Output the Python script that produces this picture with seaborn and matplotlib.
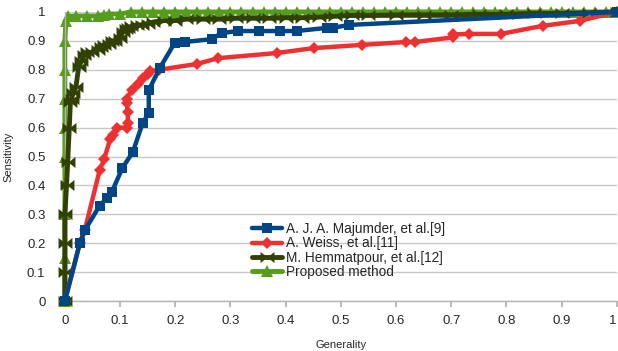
import numpy as np
import pandas as pd
import matplotlib
matplotlib.use("Agg")
import matplotlib.pyplot as plt
import seaborn as sns
from matplotlib.path import Path

# ---- data ----
maj_x = [0, 0.027, 0.036, 0.063, 0.076, 0.085, 0.104, 0.123, 0.141, 0.152, 0.152,
         0.172, 0.199, 0.217, 0.266, 0.284, 0.313, 0.351, 0.389, 0.42, 0.475, 0.486,
         0.514, 1.0]
maj_y = [0, 0.20, 0.245, 0.33, 0.356, 0.377, 0.46, 0.515, 0.616, 0.65, 0.73,
         0.806, 0.893, 0.896, 0.906, 0.927, 0.934, 0.934, 0.934, 0.934, 0.945, 0.945,
         0.955, 1.0]

weiss_x = [0, 0.027, 0.036, 0.063, 0.071, 0.082, 0.087, 0.094, 0.112, 0.114, 0.114,
           0.112, 0.112, 0.121, 0.132, 0.141, 0.15, 0.154, 0.17, 0.239, 0.277, 0.384,
           0.451, 0.538, 0.618, 0.634, 0.703, 0.703, 0.732, 0.79, 0.866, 0.933, 1.0]
weiss_y = [0, 0.20, 0.245, 0.453, 0.49, 0.56, 0.574, 0.6, 0.6, 0.616, 0.654,
           0.685, 0.70, 0.73, 0.75, 0.77, 0.785, 0.795, 0.80, 0.82, 0.84, 0.858,
           0.875, 0.886, 0.896, 0.896, 0.912, 0.922, 0.924, 0.924, 0.952, 0.969, 1.0]

hem_x = [0, 0, 0, 0, 0.003, 0.005, 0.008, 0.01, 0.012, 0.015, 0.02, 0.025, 0.03,
         0.035, 0.04, 0.05, 0.06, 0.065, 0.07, 0.08, 0.085, 0.09, 0.1, 0.105, 0.11,
         0.115, 0.12, 0.13, 0.14, 0.15, 0.16, 0.18, 0.2, 0.22, 0.25, 0.28, 0.31,
         0.34, 0.37, 0.4, 0.43, 0.46, 0.49, 0.52, 0.55, 0.6, 0.65, 0.7, 0.75, 0.8,
         0.85, 0.9, 0.95, 1.0]
hem_y = [0, 0.1, 0.2, 0.3, 0.4, 0.48, 0.6, 0.69, 0.7, 0.72, 0.74, 0.81, 0.83,
         0.85, 0.86, 0.86, 0.87, 0.88, 0.885, 0.89, 0.9, 0.9, 0.91, 0.93, 0.94,
         0.945, 0.95, 0.955, 0.955, 0.96, 0.965, 0.97, 0.97, 0.975, 0.975, 0.975,
         0.978, 0.978, 0.978, 0.98, 0.98, 0.982, 0.985, 0.988, 0.988, 0.99, 0.99,
         0.99, 0.992, 0.992, 0.995, 0.995, 0.997, 1.0]

prop_x = [0, 0, 0, 0, 0, 0, 0, 0, 0.002, 0.005, 0.02, 0.04, 0.06, 0.07, 0.08, 0.1,
          0.12, 0.14, 0.16, 0.18, 0.2, 0.22, 0.24, 0.26, 0.28, 0.3, 0.32, 0.34,
          0.36, 0.38, 0.4, 0.42, 0.44, 0.46, 0.48, 0.5, 0.52, 0.54, 0.56, 0.58,
          0.6, 0.62, 0.64, 0.66, 0.68, 0.7, 0.72, 0.74, 0.76, 0.78, 0.8, 0.82,
          0.84, 0.86, 0.88, 0.9, 0.92, 0.94, 0.96, 0.98, 1.0]
prop_y = [0, 0.15, 0.3, 0.5, 0.6, 0.7, 0.8, 0.9, 0.97, 0.985, 0.986, 0.986, 0.986,
          0.99, 0.993, 0.993, 1, 1, 1, 1, 1, 1, 1, 1, 1, 1, 1, 1, 1, 1, 1, 1, 1,
          1, 1, 1, 1, 1, 1, 1, 1, 1, 1, 1, 1, 1, 1, 1, 1, 1, 1, 1, 1, 1, 1, 1, 1,
          1, 1, 1, 1]

labels = ["A. J. A. Majumder, et al.[9]", "A. Weiss, et al.[11]",
          "M. Hemmatpour, et al.[12]", "Proposed method"]
colors = ["#004586", "#ee3030", "#314004", "#579d1c"]
tick_labels = ["0", "0.1", "0.2", "0.3", "0.4", "0.5", "0.6", "0.7", "0.8", "0.9", "1"]

# bowtie marker for the Hemmatpour series
bowtie = Path([(-1, -0.8), (0, 0), (-1, 0.8), (-1, -0.8), (1, 0.8), (0, 0),
               (1, -0.8), (1, 0.8)])

sns.set_theme(style="white")
plt.rcParams['font.family'] = ['Liberation Sans', 'DejaVu Sans']

fig = plt.figure(figsize=(6.18, 3.51), dpi=100)
ax = fig.add_axes([0.105, 0.142, 0.893, 0.824])

# first series ends up on top, as in the reference
series = [(maj_x, maj_y, "s", 7, 3.2, 5), (weiss_x, weiss_y, "D", 6, 3.2, 4),
          (hem_x, hem_y, bowtie, 10, 3.5, 3), (prop_x, prop_y, "^", 8, 3.5, 2)]
for (xs, ys, mk, ms, lw, z), lab, col in zip(series, labels, colors):
    df = pd.DataFrame({"Generality": xs, "Sensitivity": ys})
    sns.lineplot(data=df, x="Generality", y="Sensitivity", ax=ax, sort=False,
                 estimator=None, color=col, linewidth=lw, marker=mk,
                 markersize=ms, markeredgewidth=0, label=lab, zorder=z,
                 clip_on=False)

ax.set_xlim(0, 1)
ax.set_ylim(0, 1)
ax.set_xticks(np.arange(0, 1.01, 0.1))
ax.set_yticks(np.arange(0, 1.01, 0.1))
ax.set_xticklabels(tick_labels)
ax.set_yticklabels(tick_labels)
ax.get_xticklabels()[-1].set_horizontalalignment("right")
ax.yaxis.grid(True, color="#c8c8c8", linewidth=1)
ax.xaxis.grid(False)
ax.set_axisbelow(True)
for s in ["top", "right"]:
    ax.spines[s].set_visible(False)
for s in ["left", "bottom"]:
    ax.spines[s].set_color("#b3b3b3")
    ax.spines[s].set_linewidth(1)
ax.tick_params(axis="x", bottom=True, length=4, color="#b3b3b3", labelsize=9.5, pad=6)
ax.tick_params(axis="y", left=False, labelsize=9.5, pad=8)
ax.set_xlabel("Generality", fontsize=8, labelpad=9)
ax.set_ylabel("Sensitivity", fontsize=8)
ax.yaxis.set_label_coords(-0.093, 0.5)

leg = ax.legend(loc="upper left", bbox_to_anchor=(0.33, 0.292), frameon=False,
                fontsize=9.8, handlelength=2.2, handletextpad=0.3, labelspacing=0.02,
                borderaxespad=0)

fig.savefig("out.png", dpi=100)
